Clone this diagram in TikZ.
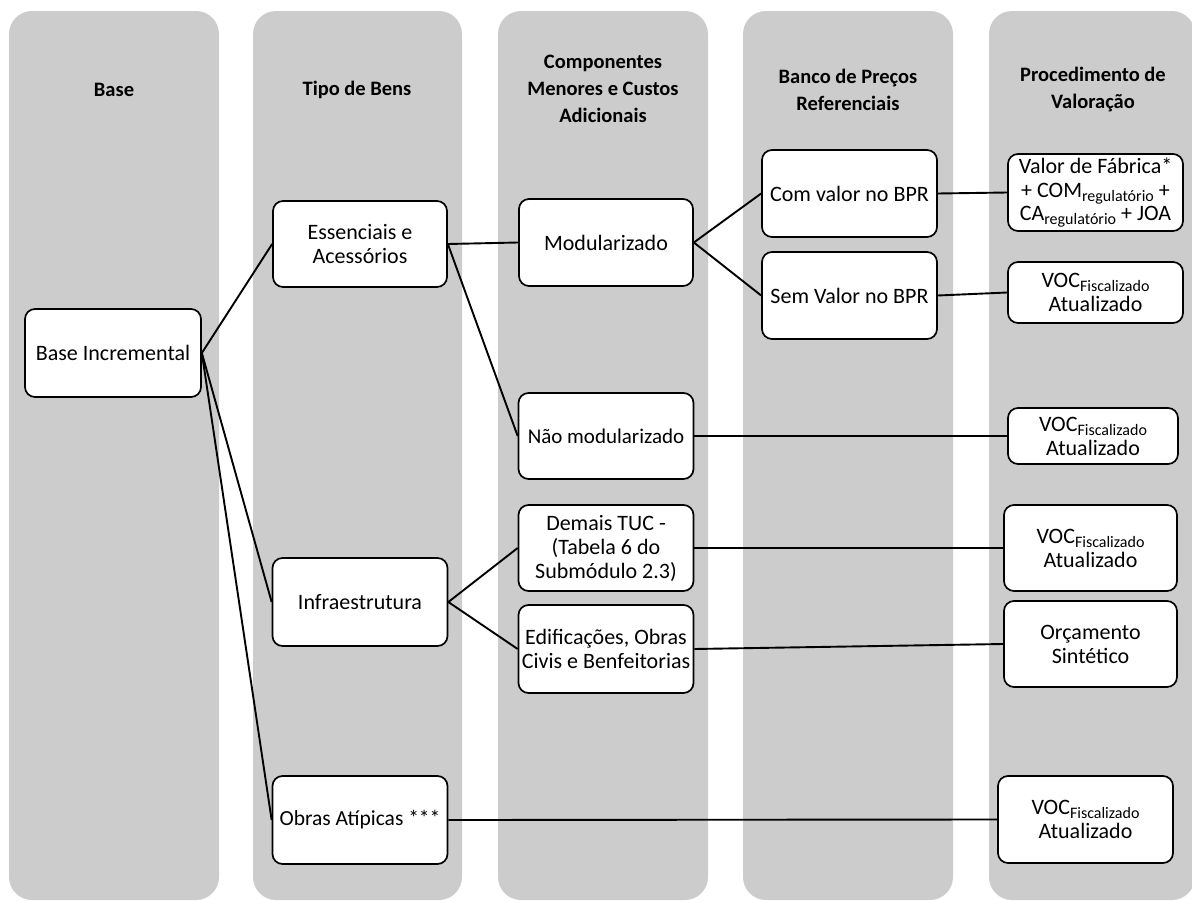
\documentclass[tikz,border=0pt]{standalone}
\usepackage{fontspec}
\setmainfont{Carlito}
\definecolor{colgray}{RGB}{204,204,204}
\newcommand\mysub[1]{\raisebox{-0.4ex}{\fontsize{16}{16}\selectfont #1}}
\tikzset{
  lane/.style={fill=colgray, rounded corners=23pt},
  hdr/.style={align=center, font=\fontsize{20.5}{27}\selectfont\bfseries, inner sep=0pt},
  box/.style={draw=black, line width=1.7pt, fill=white, rounded corners=10pt,
    align=center, inner sep=0pt, font=\fontsize{22}{24}\selectfont},
  link/.style={draw=black, line width=1.9pt}
}
\begin{document}
\begin{tikzpicture}[x=1pt,y=-1pt]
\useasboundingbox (0,0) rectangle (1192,902);
\clip (0,0) rectangle (1192,902);
% lanes
\fill[lane] (9,11) rectangle (219,900);
\fill[lane] (253,11) rectangle (462,900);
\fill[lane] (498,11) rectangle (708,900);
\fill[lane] (743,11) rectangle (953,900);
\fill[lane] (989,11) rectangle (1195,900);
% headers
\node[hdr] (h1) at (114,90) {Base};
\node[hdr] (h2) at (357,90) {Tipo de Bens};
\node[hdr] (h3) at (603,89) {Componentes\\Menores e Custos\\Adicionais};
\node[hdr] (h4) at (848,90) {Banco de Preços\\Referenciais};
\node[hdr] (h5) at (1093,90) {Procedimento de\\Valoração};
% boxes
\node[box, minimum width=176pt, minimum height=88pt] (base) at (113,353) {Base Incremental};
\node[box, minimum width=174pt, minimum height=86pt] (ess) at (360,244) {Essenciais e\\Acessórios};
\node[box, minimum width=175pt, minimum height=88pt] (infra) at (360,602) {Infraestrutura};
\node[box, minimum width=175pt, minimum height=88pt, font=\fontsize{21.5}{24}\selectfont] (obras) at (360,820) {Obras Atípicas ***};
\node[box, minimum width=174pt, minimum height=87pt] (mod) at (606,242.5) {Modularizado};
\node[box, minimum width=175pt, minimum height=86pt, font=\fontsize{21}{24}\selectfont] (nmod) at (606,436) {Não modularizado};
\node[box, minimum width=175pt, minimum height=86pt] (demais) at (606,548) {Demais TUC -\\(Tabela 6 do\\Submódulo 2.3)};
\node[box, minimum width=175pt, minimum height=88pt] (edif) at (606,649) {Edificações, Obras\\Civis e Benfeitorias};
\node[box, minimum width=175pt, minimum height=87pt] (com) at (849.5,193.5) {Com valor no BPR};
\node[box, minimum width=175pt, minimum height=87pt] (sem) at (849.5,295.5) {Sem Valor no BPR};
\node[box, minimum width=175pt, minimum height=77pt] (vf) at (1095.5,192.5) {Valor de Fábrica*\\[0pt]+ COM\mysub{regulatório} +\\[-1pt]CA\mysub{regulatório} + JOA};
\node[box, minimum width=175pt, minimum height=61pt] (voc1) at (1095.5,292.5) {VOC\mysub{Fiscalizado}\\Atualizado};
\node[box, minimum width=170pt, minimum height=56pt] (voc2) at (1093,436) {VOC\mysub{Fiscalizado}\\Atualizado};
\node[box, minimum width=173pt, minimum height=86pt] (voc3) at (1090.5,548) {VOC\mysub{Fiscalizado}\\Atualizado};
\node[box, minimum width=173pt, minimum height=86pt] (orc) at (1090.5,644) {Orçamento\\Sintético};
\node[box, minimum width=175pt, minimum height=87pt] (voc4) at (1085.5,819.5) {VOC\mysub{Fiscalizado}\\Atualizado};
% connectors
\draw[link] (base.east) -- (ess.west);
\draw[link] (base.east) -- (infra.west);
\draw[link] (base.east) -- (obras.west);
\draw[link] (ess.east) -- (mod.west);
\draw[link] (ess.east) -- (nmod.west);
\draw[link] (mod.east) -- (com.west);
\draw[link] (mod.east) -- (sem.west);
\draw[link] (com.east) -- (vf.west);
\draw[link] (sem.east) -- (voc1.west);
\draw[link] (nmod.east) -- (voc2.west);
\draw[link] (infra.east) -- (demais.west);
\draw[link] (infra.east) -- (edif.west);
\draw[link] (demais.east) -- (voc3.west);
\draw[link] (edif.east) -- (orc.west);
\draw[link] (obras.east) -- (voc4.west);
\end{tikzpicture}
\end{document}
